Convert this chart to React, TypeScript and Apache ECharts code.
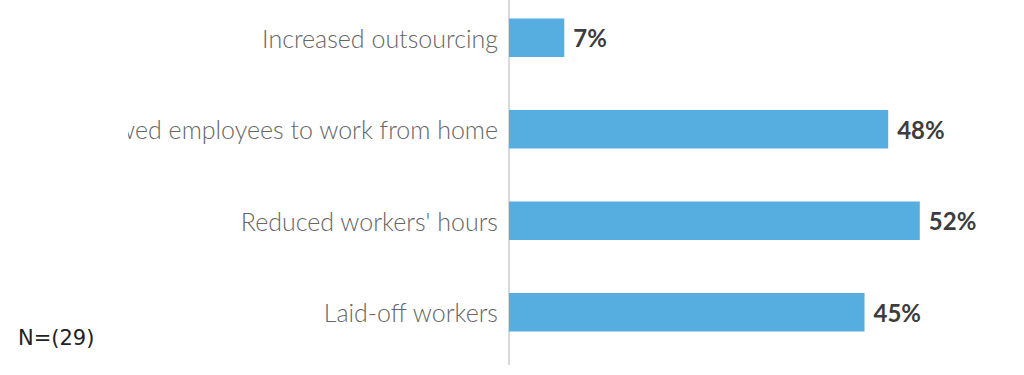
import React, { useEffect, useRef } from "react";
import * as echarts from "echarts";

const categories = [
  "Increased outsourcing",
  "Allowed employees to work from home",
  "Reduced workers' hours",
  "Laid-off workers",
];
const values = [7, 48, 52, 45];
const noteText = "N=(29)";

export default function App() {
  const ref = useRef<HTMLDivElement>(null);
  useEffect(() => {
    if (!ref.current) return;
    const chart = echarts.init(ref.current, null, { renderer: "svg" });
    chart.setOption({
      animation: false,
      backgroundColor: "#ffffff",
      grid: { left: 509, right: 41, top: 0, bottom: 17, containLabel: false },
      xAxis: {
        type: "value",
        min: 0,
        max: 60,
        show: false,
        splitLine: { show: false },
      },
      yAxis: {
        type: "category",
        inverse: true,
        data: categories,
        axisLine: { show: true, lineStyle: { color: "#d9d9d9", width: 2 } },
        axisTick: { show: false },
        axisLabel: {
          margin: 11,
          fontFamily: "Lato",
          fontWeight: 300,
          fontSize: 25,
          color: "#666666",
        },
      },
      series: [
        {
          type: "bar",
          data: values,
          barWidth: 38.5,
          itemStyle: { color: "#56ade0" },
          label: {
            show: true,
            position: "right",
            distance: 9,
            formatter: "{c}%",
            fontFamily: "Lato",
            fontWeight: "bold",
            fontSize: 24,
            color: "#3d3d3d",
          },
        },
      ],
      graphic: [
        {
          type: "rect",
          left: 0,
          top: 103,
          shape: { width: 128, height: 65 },
          style: { fill: "#ffffff" },
          z: 100,
        },
        {
          type: "line",
          shape: { x1: 509, y1: 365, x2: 509, y2: 373 },
          style: { stroke: "#d9d9d9", lineWidth: 2 },
          z: 5,
        },
        {
          type: "text",
          left: 18,
          top: 335,
          z: 101,
          style: {
            text: noteText,
            fontFamily: "DejaVu Sans",
            fontSize: 21,
            fill: "#222222",
          },
        },
      ],
    });
    return () => chart.dispose();
  }, []);
  return (
    <div
      ref={ref}
      style={{ position: "fixed", left: 0, top: -8, width: 1024, height: 383 }}
    />
  );
}
